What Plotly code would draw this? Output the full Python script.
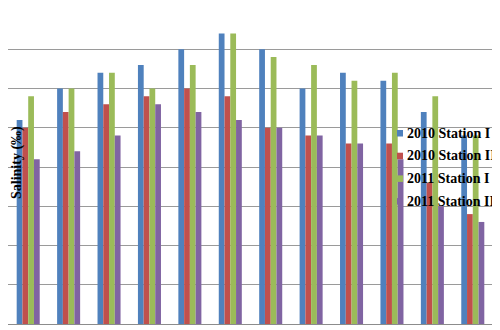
import plotly.graph_objects as go

categories = [str(i) for i in range(1, 13)]
series_names = ["2010 Station I", "2010 Station II", "2011 Station I", "2011 Station II"]
s2010_I = [26, 30, 32, 33, 35, 37, 35, 30, 32, 31, 27, 24]
s2010_II = [25, 27, 28, 29, 30, 29, 25, 24, 23, 23, 18, 14]
s2011_I = [29, 30, 32, 30, 33, 37, 34, 33, 31, 32, 29, 24]
s2011_II = [21, 22, 24, 28, 27, 26, 25, 24, 23, 21, 15, 13]
y_title = "Salinity (‰)"

colors = ["#4F81BD", "#C0504D", "#9BBB59", "#8064A2"]
series = [s2010_I, s2010_II, s2011_I, s2011_II]

fig = go.Figure()
for i, (name, vals) in enumerate(zip(series_names, series)):
    fig.add_trace(go.Bar(x=categories, y=vals, name=name, marker_color=colors[i],
                         marker_line_width=0, showlegend=False))

FONT = "Liberation Serif"
# page body has an 8px margin, so the figure is 492x322 to fill the 500x330 window
W, H = 492, 322
ML, MR, MT, MB = 0, 7, 2, 6
PW, PH = W - ML - MR, H - MT - MB


def px_x(v):
    return (v - ML) / PW


def px_y(v):
    return 1 - (v - MT) / PH


annotations = [dict(text=y_title, xref="paper", yref="paper",
                    x=px_x(9), y=px_y(155), textangle=-90,
                    showarrow=False, xanchor="center", yanchor="middle",
                    font=dict(family=FONT, size=14, color="black", weight="bold"))]
shapes = []
# legend (drawn by hand to match the small square swatches)
row0, row_step = 125, 22.7
for i, name in enumerate(series_names):
    cy = row0 + i * row_step
    shapes.append(dict(type="rect", xref="paper", yref="paper",
                       x0=px_x(389), x1=px_x(395), y0=px_y(cy - 3), y1=px_y(cy + 3.5),
                       fillcolor=colors[i], line_width=0, layer="above"))
    annotations.append(dict(text=name, xref="paper", yref="paper",
                            x=px_x(397), y=px_y(cy), xanchor="left", yanchor="middle",
                            showarrow=False,
                            font=dict(family=FONT, size=14, color="black", weight="bold")))

fig.update_layout(
    width=W, height=H,
    margin=dict(l=ML, r=MR, t=MT, b=MB, autoexpand=False),
    paper_bgcolor="white", plot_bgcolor="white",
    barmode="group", bargap=0.43, bargroupgap=0,
    showlegend=False,
    xaxis=dict(showticklabels=False, ticks="", showgrid=False, showline=True,
               linecolor="#8C8C8C", linewidth=1, zeroline=False),
    yaxis=dict(range=[0, 40], dtick=5, showticklabels=False, ticks="",
               showgrid=True, gridcolor="#9A9A9A", gridwidth=1, zeroline=False,
               showline=False),
    annotations=annotations,
    shapes=shapes,
)

fig.write_html("out.html")
